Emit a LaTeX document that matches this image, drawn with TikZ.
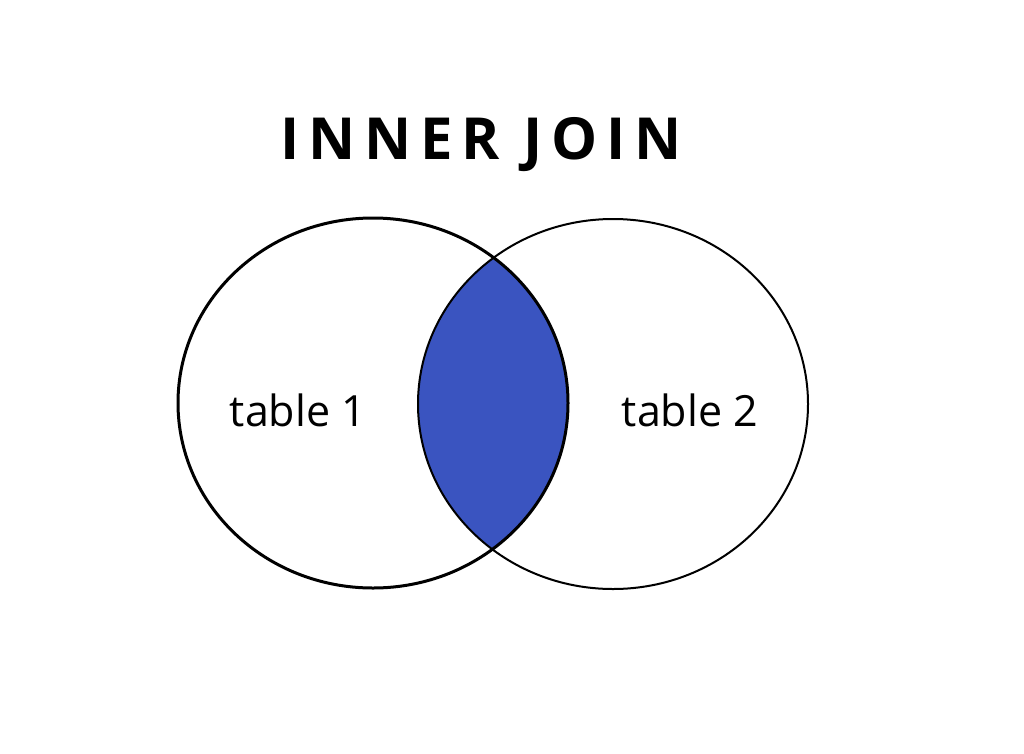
\documentclass[tikz,border=0pt]{standalone}
\usepackage{fontspec}
\setmainfont{Open Sans}
\usepackage{xcolor}
\usepackage{tikz}
\usetikzlibrary{positioning}
\definecolor{joinBlue}{HTML}{3A54C0}

\begin{document}
\begin{tikzpicture}[x=1pt, y=-1pt,
  title/.style={font=\fontsize{58}{60}\selectfont\bfseries\addfontfeature{LetterSpace=15},
    text=black, inner sep=0pt},
  tbl/.style={font=\fontsize{43}{45}\selectfont, text=black, inner sep=0pt},
  ring/.style={draw=black, line width=2pt},
]
\useasboundingbox[fill=white] (0,0) rectangle (1024,753);

\def\rx{195}
\def\ry{185}

% === intersection ===
\begin{scope}
  \clip (373,403) ellipse [x radius=\rx, y radius=\ry];
  \fill[joinBlue] (613,404) ellipse [x radius=\rx, y radius=\ry];
\end{scope}

% === circles ===
\draw[ring, line width=3pt] (373,403) ellipse [x radius=\rx, y radius=\ry];
\draw[ring] (613,404) ellipse [x radius=\rx, y radius=\ry];

% === labels ===
\node[title] (title) at (481,145) {INNER JOIN};
\node[tbl] (lbl1) at (298,410) {table 1};
\node[tbl] (lbl2) at (690,410) {table 2};

\end{tikzpicture}
\end{document}
